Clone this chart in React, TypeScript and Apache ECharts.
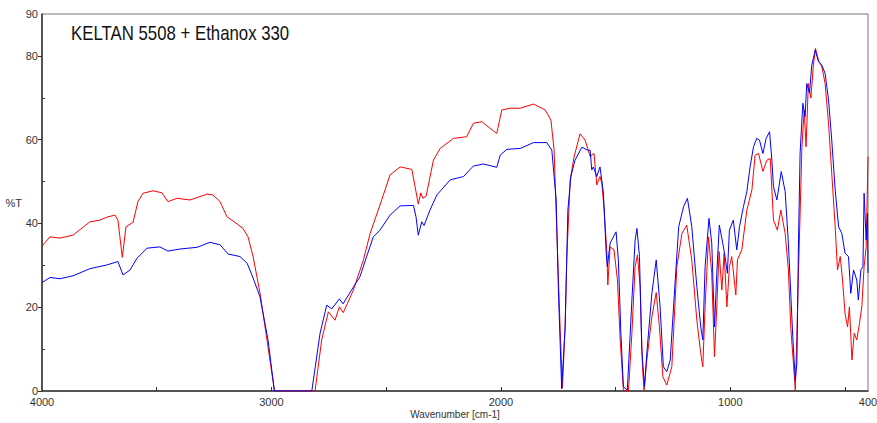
import React, { useEffect, useRef } from "react";
import * as echarts from "echarts";

const title = "KELTAN 5508 + Ethanox 330";
const xName = "Wavenumber [cm-1]";
const yName = "%T";

const xLabelValues = [4000, 3000, 2000, 1000, 400];
const xTickValues = [3500, 3000, 2500, 2000, 1500, 1000, 500];
const yLabelValues = [0, 20, 40, 60, 80, 90];
const yTickValues = [0, 20, 40, 60, 80];
const yMinorTickValues = [10, 30, 50, 70];

// wavenumber [cm-1], %T
const redWavenumbers = [
  4000, 3965, 3922, 3865, 3791, 3747, 3717, 3682, 3669, 3650, 3634, 3603, 3582, 3560, 3516, 3477,
  3451, 3412, 3355, 3281, 3255, 3224, 3194, 3150, 3124, 3102, 3080, 3050, 3015, 2987, 2824, 2810,
  2781, 2752, 2723, 2704, 2687, 2643, 2599, 2570, 2527, 2483, 2439, 2388, 2374, 2360, 2349, 2340,
  2326, 2294, 2265, 2207, 2149, 2120, 2083, 2047, 2018, 1996, 1960, 1916, 1858, 1807, 1782, 1768,
  1756, 1742, 1732, 1720, 1713, 1698, 1681, 1655, 1633, 1611, 1594, 1582, 1568, 1560, 1550, 1538,
  1534, 1524, 1507, 1492, 1480, 1466, 1444, 1429, 1415, 1405, 1393, 1383, 1376, 1364, 1342, 1323,
  1309, 1294, 1277, 1255, 1233, 1211, 1190, 1168, 1146, 1129, 1120, 1110, 1095, 1081, 1069, 1059,
  1049, 1037, 1027, 1015, 1004, 994, 976, 969, 950, 928, 906, 892, 877, 858, 841, 826,
  812, 795, 780, 761, 747, 736, 725, 717, 710, 703, 688, 678, 670, 660, 649, 638,
  629, 616, 601, 587, 572, 558, 543, 533, 521, 511, 500, 489, 481, 470, 460, 449,
  437, 427, 417, 408, 400,
];
const redValues = [
  34.6, 36.8, 36.5, 37.2, 40.4, 40.8, 41.5, 42.0, 40.8, 31.9, 39.2, 40.3, 45.2, 47.2, 47.8, 47.3,
  45.2, 46.0, 45.6, 47.0, 46.8, 45.2, 41.6, 39.9, 38.8, 36.8, 32.1, 23.4, 10.6, 0, 0, 0,
  12.2, 18.9, 16.9, 20.1, 18.7, 24.1, 31.3, 37.6, 44.4, 51.6, 53.5, 52.9, 48.8, 44.6, 47.3, 46.0,
  46.5, 55.1, 57.9, 60.3, 60.7, 63.9, 64.3, 62.7, 61.5, 67.1, 67.5, 67.5, 68.5, 67.1, 64.7, 57.5,
  37.6, 15.3, 0.7, 15.3, 31.3, 50.4, 55.9, 61.4, 59.9, 56.0, 56.7, 49.2, 51.2, 49.6, 43.2, 32.9,
  25.3, 34.4, 33.7, 26.5, 12.2, 0.2, 0, 13.8, 29.7, 32.5, 24.9, 5.8, 0.2, 7.4, 17.7, 23.5,
  15.3, 3.4, 1.4, 5.8, 29.7, 37.6, 39.6, 31.3, 16.9, 9.0, 5.8, 20.1, 36.8, 28.1, 8.2, 20.1,
  33.3, 24.1, 32.9, 20.1, 29.7, 32.1, 22.9, 31.3, 33.7, 43.2, 48.0, 56.3, 56.7, 52.4, 55.1, 55.5,
  40.8, 38.4, 43.2, 37.6, 28.9, 14.6, 6.6, 0.2, 13.0, 28.2, 58.3, 67.1, 58.3, 73.4, 69.9, 77.8,
  81.8, 79.0, 77.4, 73.4, 63.9, 52.0, 39.2, 28.9, 32.1, 26.5, 18.5, 15.3, 20.1, 7.4, 13.8, 12.2,
  16.2, 20.1, 29.7, 34.4, 55.9,
];

const blueWavenumbers = [
  4000, 3965, 3922, 3865, 3791, 3717, 3669, 3647, 3616, 3586, 3542, 3486, 3451, 3398, 3324, 3268,
  3224, 3189, 3137, 3106, 3080, 3050, 3015, 2987, 2824, 2788, 2759, 2737, 2704, 2688, 2643, 2614,
  2585, 2556, 2527, 2483, 2439, 2381, 2370, 2360, 2345, 2335, 2309, 2279, 2221, 2163, 2120, 2076,
  2040, 2018, 2003, 1974, 1916, 1858, 1800, 1778, 1759, 1749, 1735, 1720, 1708, 1695, 1677, 1647,
  1623, 1611, 1604, 1597, 1582, 1568, 1553, 1541, 1536, 1524, 1498, 1488, 1477, 1466, 1449, 1429,
  1415, 1407, 1396, 1386, 1374, 1364, 1342, 1323, 1306, 1292, 1277, 1262, 1241, 1225, 1204, 1187,
  1168, 1146, 1129, 1120, 1110, 1093, 1081, 1069, 1059, 1048, 1033, 1023, 1013, 1004, 987, 972,
  960, 943, 928, 914, 899, 885, 873, 858, 844, 829, 819, 812, 797, 778, 761, 747,
  736, 728, 717, 710, 703, 696, 684, 674, 667, 655, 645, 630, 616, 601, 587, 572,
  558, 543, 528, 514, 500, 485, 475, 463, 449, 442, 431, 422, 417, 408, 402, 400,
];
const blueValues = [
  25.9, 27.1, 26.8, 27.5, 29.2, 30.1, 30.9, 27.7, 28.9, 31.7, 34.1, 34.4, 33.4, 33.9, 34.3, 35.5,
  34.9, 32.7, 32.1, 30.5, 27.0, 22.5, 12.2, 0, 0, 13.8, 20.5, 19.6, 22.0, 20.8, 24.8, 27.3,
  32.1, 36.8, 38.4, 42.0, 44.2, 44.3, 41.6, 37.2, 40.4, 39.5, 43.2, 46.8, 50.4, 51.2, 53.7, 54.2,
  53.7, 53.4, 56.3, 57.7, 57.9, 59.3, 59.3, 57.5, 45.6, 23.4, 0.5, 15.3, 43.2, 51.2, 55.1, 58.2,
  57.5, 57.5, 52.8, 53.5, 51.2, 53.5, 47.2, 32.9, 29.7, 35.3, 38.0, 31.3, 13.8, 1.0, 0.2, 21.7,
  36.0, 38.8, 32.1, 9.8, 1.0, 9.0, 23.3, 31.3, 20.1, 5.8, 4.6, 7.4, 25.7, 39.2, 44.0, 46.0,
  39.2, 24.9, 15.3, 12.2, 29.7, 41.2, 35.3, 15.3, 28.1, 39.6, 35.3, 32.1, 28.1, 38.4, 40.8, 33.7,
  39.2, 44.0, 47.6, 53.5, 58.3, 60.3, 59.9, 56.7, 60.3, 61.9, 55.1, 48.8, 45.6, 52.4, 47.6, 35.3,
  22.5, 13.0, 2.6, 6.6, 35.3, 56.7, 68.7, 65.5, 73.4, 71.1, 77.8, 81.4, 78.6, 77.8, 75.8, 69.5,
  59.9, 48.0, 39.2, 37.6, 32.9, 32.1, 23.3, 28.9, 26.5, 21.7, 28.9, 29.7, 47.2, 36.0, 42.4, 28.2,
];

const pairs = (xs: number[], ys: number[]) => xs.map((x, i) => [x, ys[i]]);

export default function App() {
  const ref = useRef<HTMLDivElement>(null);
  useEffect(() => {
    if (!ref.current) return;
    const chart = echarts.init(ref.current, null, { renderer: "svg" });
    const labelStyle = { color: "#333", fontSize: 11, fontFamily: "Liberation Sans, Arial, sans-serif" };
    chart.setOption({
      animation: false,
      backgroundColor: "#fff",
      grid: {
        left: 42,
        right: 9,
        top: 14,
        bottom: 32,
        outerBoundsMode: "none",
        containLabel: false,
        show: true,
        borderColor: "#777",
        borderWidth: 1,
        backgroundColor: "transparent",
      },
      graphic: [
        {
          type: "text",
          left: 71,
          top: 23,
          scaleX: 0.84,
          style: {
            text: title,
            fontFamily: "Liberation Sans, Arial, sans-serif",
            fontSize: 20,
            fill: "#111",
          },
        },
      ],
      xAxis: {
        type: "value",
        min: 400,
        max: 4000,
        inverse: true,
        name: xName,
        nameLocation: "middle",
        nameGap: 18,
        nameMoveOverlap: false,
        nameTextStyle: { ...labelStyle, fontSize: 10 },
        axisLine: { show: true, onZero: false, lineStyle: { color: "#333", width: 1.5 } },
        axisTick: {
          show: true,
          inside: true,
          length: 4,
          customValues: xTickValues,
          lineStyle: { color: "#333" },
        },
        axisLabel: {
          ...labelStyle,
          margin: 5,
          customValues: xLabelValues,
          formatter: (v: number) => String(v),
        },
        splitLine: { show: false },
      },
      yAxis: [
        {
          type: "value",
          min: 0,
          max: 90,
          name: yName,
          nameLocation: "middle",
          nameGap: 20,
          nameMoveOverlap: false,
          nameRotate: 0,
          nameTextStyle: labelStyle,
          axisLine: { show: true, lineStyle: { color: "#333", width: 1.5 } },
          axisTick: {
            show: true,
            inside: false,
            length: 4,
            customValues: yTickValues,
            lineStyle: { color: "#333" },
          },
          axisLabel: {
            ...labelStyle,
            margin: 4,
            customValues: yLabelValues,
            formatter: (v: number) => String(v),
          },
          splitLine: { show: false },
        },
        {
          type: "value",
          min: 0,
          max: 90,
          position: "left",
          axisLine: { show: false },
          axisTick: {
            show: true,
            inside: true,
            length: 3,
            customValues: yMinorTickValues,
            lineStyle: { color: "#333" },
          },
          axisLabel: { show: false },
          splitLine: { show: false },
        },
      ],
      series: [
        {
          type: "line",
          name: "red",
          data: pairs(redWavenumbers, redValues),
          showSymbol: false,
          lineStyle: { color: "#ff0000", width: 1 },
          itemStyle: { color: "#ff0000" },
        },
        {
          type: "line",
          name: "blue",
          data: pairs(blueWavenumbers, blueValues),
          showSymbol: false,
          lineStyle: { color: "#0000ff", width: 1 },
          itemStyle: { color: "#0000ff" },
        },
      ],
    });
    return () => chart.dispose();
  }, []);
  return (
    <div
      ref={ref}
      style={{ position: "fixed", left: 0, top: 0, width: 877, height: 423, background: "#fff" }}
    />
  );
}
